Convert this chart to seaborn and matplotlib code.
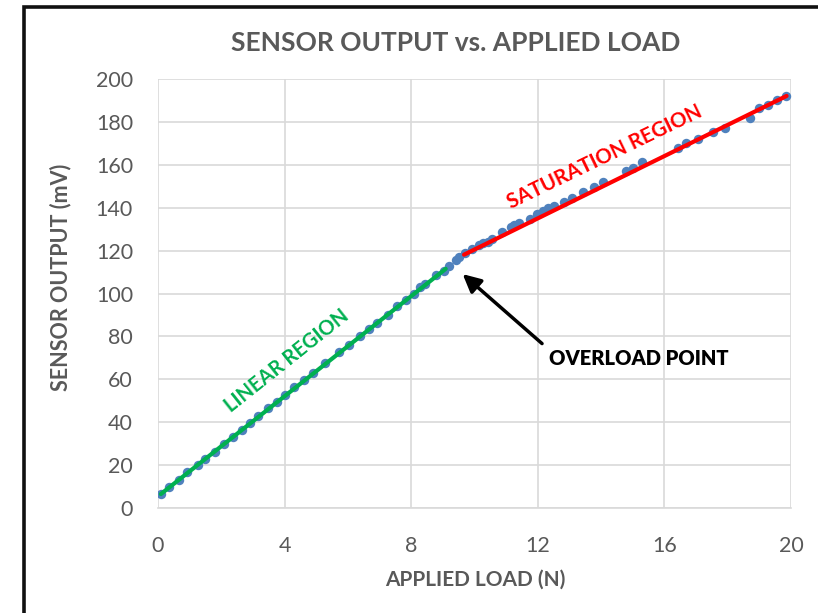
import matplotlib
matplotlib.use("Agg")
import matplotlib.pyplot as plt
import seaborn as sns
import pandas as pd
from matplotlib.patches import Rectangle

# ---- data ----
load_n = [0.09, 0.34, 0.66, 0.93, 1.25, 1.50, 1.80, 2.09, 2.38, 2.64,
          2.91, 3.17, 3.47, 3.75, 4.02, 4.31, 4.60, 4.91, 5.28, 5.71,
          6.02, 6.39, 6.66, 6.92, 7.27, 7.55, 7.82, 8.08, 8.29, 8.43,
          8.77, 9.03, 9.20, 9.40, 9.52, 9.70, 9.93, 10.14, 10.27, 10.44,
          10.56, 10.88, 11.15, 11.25, 11.41, 11.75, 11.99, 12.15, 12.31, 12.52,
          12.84, 13.08, 13.42, 13.76, 14.05, 14.79, 15.00, 15.30, 16.43, 16.69,
          17.06, 17.54, 17.91, 18.70, 19.00, 19.28, 19.55, 19.84]
output_mv = [6.5, 9.9, 13.0, 16.6, 20.0, 22.8, 26.2, 29.8, 33.2, 36.3,
             39.7, 42.8, 46.4, 49.2, 52.6, 56.4, 59.5, 62.9, 67.6, 72.7,
             75.8, 80.0, 83.6, 86.2, 90.2, 94.0, 97.1, 99.9, 102.9, 104.2,
             108.4, 110.7, 112.6, 115.8, 117.0, 118.7, 120.8, 122.8, 123.4, 123.9,
             125.4, 128.5, 130.8, 132.0, 132.7, 134.7, 137.1, 138.6, 139.9, 140.9,
             142.5, 144.3, 147.1, 149.8, 151.8, 156.9, 158.5, 161.1, 168.0, 170.1,
             172.0, 175.5, 177.3, 181.7, 186.4, 187.9, 190.1, 192.1]

linear_fit_x = [0.09, 9.09]
linear_fit_y = [6.5, 111.5]
sat_fit_x = [9.67, 19.86]
sat_fit_y = [118.1, 192.1]

x_ticks = [0, 4, 8, 12, 16, 20]
y_ticks = [0, 20, 40, 60, 80, 100, 120, 140, 160, 180, 200]

# ---- style ----
sns.set_theme(style="white")
plt.rcParams['font.family'] = ['Lato', 'DejaVu Sans']

GRAY = "#595959"
GRID = "#D9D9D9"
BLUE = "#4F81BD"
GREEN = "#00B050"
RED = "#FF0000"

fig = plt.figure(figsize=(8.18, 6.13), dpi=100)
fig.patch.set_facecolor("white")
ax = fig.add_axes([158/818, 1-508/613, (791-158)/818, (508-79)/613])

df = pd.DataFrame({"load": load_n, "out": output_mv})
sns.scatterplot(data=df, x="load", y="out", ax=ax, s=46, color=BLUE,
                edgecolor=BLUE, linewidth=0, zorder=3)
sns.lineplot(x=linear_fit_x, y=linear_fit_y, ax=ax, color=GREEN, lw=3,
             estimator=None, sort=False, zorder=4)
sns.lineplot(x=sat_fit_x, y=sat_fit_y, ax=ax, color=RED, lw=3,
             estimator=None, sort=False, zorder=4)

ax.set_xlim(0, 20)
ax.set_ylim(0, 200)
ax.set_xticks(x_ticks)
ax.set_yticks(y_ticks)
ax.grid(True, color=GRID, lw=1.2)
ax.set_axisbelow(True)
for s in ["left", "right", "top"]:
    ax.spines[s].set_visible(False)
ax.spines["bottom"].set_color(GRID)
ax.spines["bottom"].set_linewidth(1.2)
ax.tick_params(axis="both", length=0, labelsize=15.5, colors=GRAY)
ax.tick_params(axis="x", pad=20)
ax.tick_params(axis="y", pad=18)
ax.set_xlabel("")
ax.set_ylabel("")

fig.text(456/818, 1-43/613, "SENSOR OUTPUT vs. APPLIED LOAD", ha="center",
         va="center", fontsize=19, fontweight="bold", color=GRAY)
fig.text(475/818, 1-580/613, "APPLIED LOAD (N)", ha="center", va="center",
         fontsize=15, fontweight="bold", color=GRAY)
fig.text(61/818, 1-277/613, "SENSOR OUTPUT (mV)", ha="center", va="center",
         rotation=90, fontsize=15.5, fontweight="bold", color=GRAY)

ax.text(4.06, 68.4, "LINEAR REGION", rotation=38.5, rotation_mode="anchor",
        ha="center", va="center", fontsize=14.5, fontweight="bold", color=GREEN)
ax.text(14.1, 163.7, "SATURATION REGION", rotation=25.8, rotation_mode="anchor",
        ha="center", va="center", fontsize=14.8, fontweight="bold", color=RED)
ax.annotate("", xy=(9.56, 109.9), xytext=(12.2, 75.8),
            arrowprops=dict(arrowstyle="-|>,head_length=0.9,head_width=0.45",
                            color="black", lw=2.5))
ax.text(12.36, 69.8, "OVERLOAD POINT", ha="left", va="center",
        fontsize=14.5, fontweight="heavy", color="black")

fig.add_artist(Rectangle((24/818, -0.5), 2.0, 0.5 + (1-7.5/613),
                         transform=fig.transFigure, fill=False,
                         edgecolor="#111111", lw=2.6, clip_on=False))

fig.savefig("out.png", dpi=100, facecolor="white")
